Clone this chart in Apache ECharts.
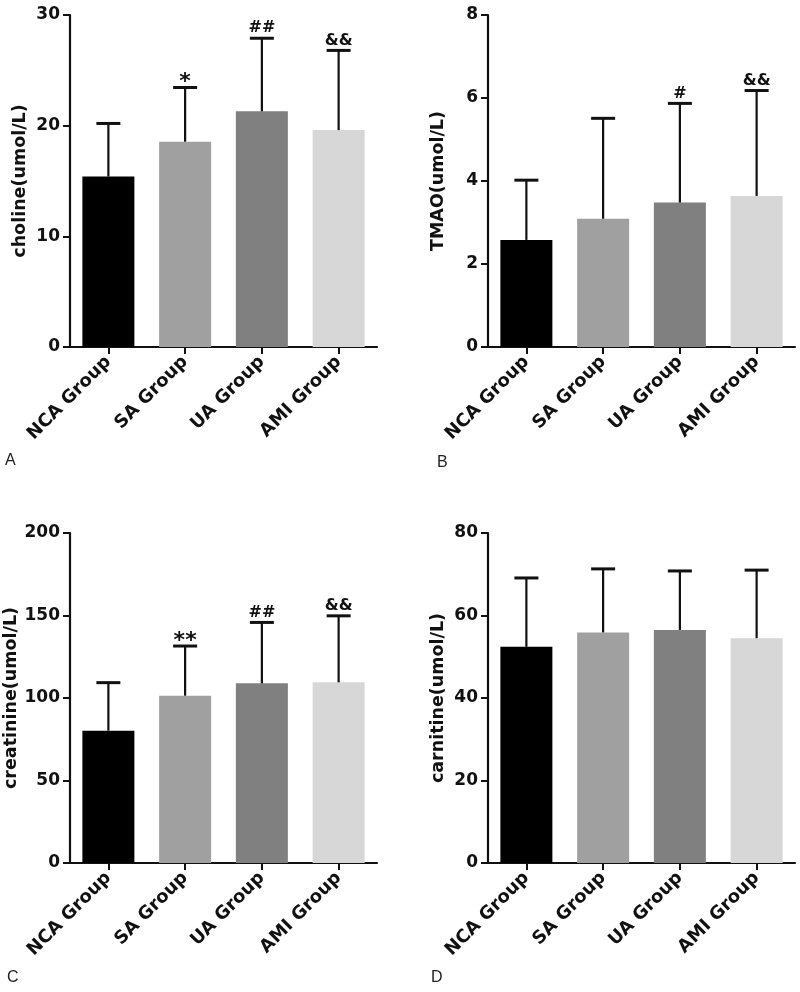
<!DOCTYPE html>
<html><head><meta charset="utf-8">
<script src="https://cdn.jsdelivr.net/npm/echarts@6/dist/echarts.min.js"></script>
<style>html,body{margin:0;padding:0;background:#fff}#c{width:800px;height:992px}</style>
</head><body><div id="c"></div>
<script>
// ---- data ----
const categories = ['NCA Group', 'SA Group', 'UA Group', 'AMI Group'];

const cholineMean = [15.4, 18.55, 21.3, 19.6];
const cholineSD   = [4.8, 4.9, 6.6, 7.2];
const cholineSig  = ['', '*', '##', '&&'];

const tmaoMean = [2.58, 3.09, 3.48, 3.64];
const tmaoSD   = [1.44, 2.42, 2.39, 2.54];
const tmaoSig  = ['', '', '#', '&&'];

const creatinineMean = [80.2, 101.4, 108.9, 109.5];
const creatinineSD   = [29.1, 30.1, 36.9, 40.3];
const creatinineSig  = ['', '**', '##', '&&'];

const carnitineMean = [52.4, 55.9, 56.5, 54.5];
const carnitineSD   = [16.7, 15.4, 14.3, 16.5];
const carnitineSig  = ['', '', '', ''];

const yTitles = ['choline(umol/L)', 'TMAO(umol/L)', 'creatinine(umol/L)', 'carnitine(umol/L)'];
const yMax = [30, 8, 200, 80];
const yInterval = [10, 2, 50, 20];
const panelLetters = ['A', 'B', 'C', 'D'];

// ---- style ----
const barColors = ['#000000', '#a0a0a0', '#808080', '#d7d7d7'];
const FONT = 'DejaVu Sans';
const grids = [
  {left: 70, top: 15, width: 307, height: 332},
  {left: 488, top: 15, width: 307, height: 332},
  {left: 70, top: 533, width: 307, height: 330},
  {left: 488, top: 533, width: 307, height: 330}
];
const panels = [
  {mean: cholineMean, sd: cholineSD, sig: cholineSig},
  {mean: tmaoMean, sd: tmaoSD, sig: tmaoSig},
  {mean: creatinineMean, sd: creatinineSD, sig: creatinineSig},
  {mean: carnitineMean, sd: carnitineSD, sig: carnitineSig}
];

const chart = echarts.init(document.getElementById('c'), null, {renderer: 'canvas'});

const xAxes = [], yAxes = [], series = [];
panels.forEach((p, k) => {
  xAxes.push({
    type: 'category', gridIndex: k, data: categories,
    axisLine: {lineStyle: {color: '#111', width: 2.2}},
    axisTick: {show: true, alignWithLabel: true, length: 7, lineStyle: {color: '#111', width: 2}},
    axisLabel: {rotate: 45, margin: 12, color: '#111', fontFamily: FONT, fontWeight: 'bold', fontSize: 18, interval: 0}
  });
  yAxes.push({
    type: 'value', gridIndex: k, min: 0, max: yMax[k], interval: yInterval[k],
    name: yTitles[k], nameLocation: 'middle', nameGap: 41,
    nameTextStyle: {color: '#111', fontFamily: FONT, fontWeight: 'bold', fontSize: 17.5},
    axisLine: {show: true, lineStyle: {color: '#111', width: 2.2}},
    axisTick: {show: true, length: 7, lineStyle: {color: '#111', width: 2}},
    axisLabel: {margin: 10, color: '#111', fontFamily: FONT, fontWeight: 'bold', fontSize: 17},
    splitLine: {show: false}
  });
  series.push({
    type: 'bar', xAxisIndex: k, yAxisIndex: k, barWidth: 52, silent: true,
    data: p.mean.map((v, i) => ({value: v, itemStyle: {color: barColors[i]}})),
    z: 2
  });
  series.push({
    type: 'custom', xAxisIndex: k, yAxisIndex: k, silent: true, z: 3,
    data: p.mean.map((v, i) => [i, v, v + p.sd[i]]),
    renderItem: function (params, api) {
      const idx = params.dataIndex;
      const a = api.coord([api.value(0), api.value(1)]);
      const b = api.coord([api.value(0), api.value(2)]);
      const half = 12;
      const children = [
        {type: 'line', shape: {x1: a[0], y1: a[1], x2: b[0], y2: b[1]}, style: {stroke: '#111', lineWidth: 2.2}},
        {type: 'line', shape: {x1: b[0] - half, y1: b[1], x2: b[0] + half, y2: b[1]}, style: {stroke: '#111', lineWidth: 3}}
      ];
      const s = p.sig[idx];
      if (s) {
        const isStar = s.indexOf('*') >= 0;
        children.push({
          type: 'text',
          style: {
            text: s, x: b[0], y: b[1] + (isStar ? 6 : -2),
            align: 'center', verticalAlign: 'bottom',
            font: 'bold ' + (isStar ? 22 : 16) + 'px ' + FONT, fill: '#111'
          }
        });
      }
      return {type: 'group', children: children};
    }
  });
});

const letterPos = [[5, 453], [437, 455], [7, 970], [431, 970]];
const graphics = panelLetters.map((t, k) => ({
  type: 'text', left: letterPos[k][0], top: letterPos[k][1],
  style: {text: t, font: '16px "Liberation Sans"', fill: '#222'}
}));

chart.setOption({
  animation: false,
  backgroundColor: '#ffffff',
  grid: grids,
  xAxis: xAxes,
  yAxis: yAxes,
  series: series,
  graphic: graphics
});
</script>
</body></html>
